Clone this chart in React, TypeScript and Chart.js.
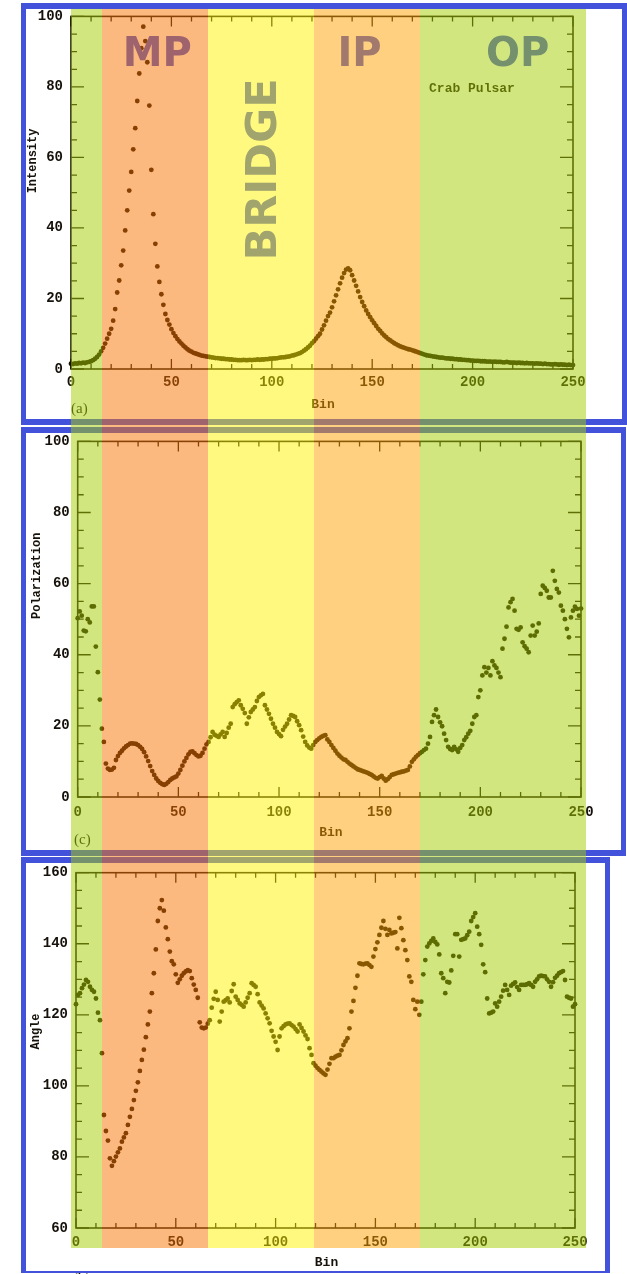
import React, { useEffect, useRef } from 'react';
import { Chart, registerables } from 'chart.js';

Chart.register(...registerables);

// ---------------- data ----------------
const bins: number[] = Array.from({ length: 251 }, (_, i) => i);

const xTickValues = [0, 50, 100, 150, 200, 250];
const intensityTicks = [0, 20, 40, 60, 80, 100];
const polarizationTicks = [0, 20, 40, 60, 80, 100];
const angleTicks = [60, 80, 100, 120, 140, 160];

const intensity = [
  1.5, 1.4, 1.6, 1.5, 1.7, 1.6, 1.8, 1.7, 1.9, 2.0,
  2.2, 2.5, 2.9, 3.4, 4.1, 5.0, 6.0, 7.2, 8.6, 10.0,
  11.4, 13.7, 17.0, 21.7, 25.1, 29.4, 33.6, 39.3, 45.0, 50.6,
  55.9, 62.3, 68.3, 76.0, 83.8, 91.0, 97.1, 93.0, 87.0, 74.7,
  56.5, 43.9, 35.5, 29.1, 24.7, 21.2, 18.2, 15.6, 13.9, 12.6,
  11.3, 10.2, 9.3, 8.5, 7.8, 7.2, 6.6, 6.1, 5.6, 5.2,
  4.9, 4.6, 4.4, 4.2, 4.0, 3.8, 3.7, 3.6, 3.5, 3.4,
  3.3, 3.2, 3.1, 3.1, 3.0, 2.9, 2.9, 2.8, 2.8, 2.7,
  2.7, 2.6, 2.6, 2.5, 2.5, 2.5, 2.6, 2.5, 2.5, 2.6,
  2.5, 2.6, 2.6, 2.7, 2.6, 2.7, 2.7, 2.8, 2.8, 2.9,
  2.9, 3.0, 3.0, 3.1, 3.2, 3.3, 3.3, 3.4, 3.5, 3.6,
  3.8, 3.9, 4.1, 4.3, 4.5, 4.8, 5.2, 5.6, 6.1, 6.6,
  7.3, 7.9, 8.6, 9.3, 10.0, 11.2, 12.4, 13.7, 15.0, 16.0,
  17.5, 19.2, 20.9, 22.6, 24.3, 25.9, 27.2, 28.2, 28.5, 28.0,
  26.6, 25.1, 23.6, 22.0, 20.4, 19.0, 17.8, 16.6, 15.6, 14.7,
  13.8, 13.0, 12.2, 11.4, 10.8, 10.1, 9.5, 9.0, 8.5, 8.1,
  7.7, 7.3, 7.0, 6.7, 6.4, 6.2, 6.0, 5.8, 5.6, 5.5,
  5.3, 5.1, 4.9, 4.7, 4.5, 4.3, 4.1, 3.9, 3.8, 3.7,
  3.6, 3.5, 3.4, 3.3, 3.2, 3.2, 3.1, 3.0, 3.0, 2.9,
  2.9, 2.8, 2.8, 2.7, 2.7, 2.6, 2.6, 2.5, 2.5, 2.4,
  2.4, 2.3, 2.3, 2.3, 2.2, 2.2, 2.2, 2.1, 2.1, 2.1,
  2.0, 2.1, 2.0, 2.0, 2.0, 1.9, 1.9, 2.0, 1.9, 1.8,
  1.8, 1.8, 1.7, 1.8, 1.7, 1.7, 1.6, 1.7, 1.6, 1.6,
  1.6, 1.5, 1.6, 1.5, 1.5, 1.4, 1.5, 1.4, 1.4, 1.3,
  1.3, 1.4, 1.3, 1.2, 1.3, 1.2, 1.2, 1.1, 1.2, 1.1,
  1.1,
];

const polarization = [
  50.3, 52.2, 51.0, 46.8, 46.6, 50.0, 49.1, 53.6, 53.6, 42.3,
  35.1, 27.4, 19.2, 15.5, 9.4, 8.0, 7.6, 7.7, 8.2, 10.4,
  11.5, 12.4, 13.0, 13.7, 14.2, 14.6, 15.0, 15.1, 15.0, 14.9,
  14.6, 14.1, 13.5, 12.6, 11.4, 10.1, 8.7, 7.3, 6.2, 5.2,
  4.5, 4.0, 3.6, 3.4, 3.7, 4.2, 4.8, 5.2, 5.5, 5.8,
  6.6, 7.6, 8.8, 10.0, 11.0, 12.0, 12.7, 12.8, 12.3, 11.8,
  11.4, 11.6, 12.4, 13.6, 14.8, 15.5, 16.8, 18.3, 17.5, 17.2,
  16.9, 17.6, 18.3, 16.9, 18.0, 19.5, 20.6, 25.3, 26.1, 26.7,
  27.2, 25.8, 24.8, 23.6, 20.6, 22.4, 23.9, 24.6, 25.3, 27.0,
  28.1, 28.6, 29.0, 25.8, 24.6, 23.4, 22.0, 20.6, 19.5, 18.3,
  17.7, 17.1, 18.9, 19.8, 20.6, 21.8, 23.0, 22.8, 22.5, 21.3,
  20.2, 18.8, 17.0, 15.5, 14.5, 13.9, 13.6, 14.6, 15.5, 16.0,
  16.5, 16.9, 17.2, 17.4, 16.2, 15.5, 14.6, 13.8, 13.0, 12.2,
  11.6, 11.1, 10.6, 10.4, 9.9, 9.4, 9.0, 8.6, 8.2, 7.8,
  7.6, 7.4, 7.2, 7.0, 6.8, 6.5, 6.2, 5.8, 5.4, 5.2,
  5.6, 5.9, 5.2, 4.6, 5.0, 5.6, 6.2, 6.4, 6.6, 6.8,
  6.9, 7.1, 7.2, 7.4, 7.6, 8.6, 9.9, 10.6, 11.3, 11.8,
  12.3, 12.7, 13.2, 13.6, 15.0, 16.9, 21.1, 23.0, 24.6, 22.5,
  21.0, 19.9, 17.8, 16.0, 14.1, 13.5, 13.2, 14.1, 13.4, 12.7,
  13.8, 14.6, 16.0, 16.8, 17.8, 18.6, 20.6, 22.5, 23.0, 28.1,
  30.0, 34.2, 36.5, 35.0, 36.3, 34.2, 38.2, 37.0, 36.3, 35.0,
  33.7, 41.7, 44.5, 47.9, 53.3, 54.8, 55.7, 52.4, 47.3, 47.0,
  47.7, 43.5, 42.4, 41.7, 40.7, 45.4, 48.2, 45.4, 46.5, 48.8,
  57.1, 59.4, 58.8, 58.0, 56.1, 56.1, 63.6, 60.8, 58.5, 57.5,
  53.8, 52.4, 50.0, 47.3, 44.9, 50.5, 52.4, 53.5, 52.9, 51.0,
  53.0,
];

const angle = [
  123.0, 125.6, 126.1, 127.5, 128.5, 129.8, 129.3, 127.9, 127.0, 126.5,
  124.6, 120.6, 118.5, 109.2, 91.8, 87.3, 84.6, 79.6, 77.5, 78.8,
  80.1, 81.3, 82.4, 84.3, 85.5, 86.7, 89.0, 91.3, 93.5, 96.0,
  98.6, 101.0, 104.2, 107.3, 110.2, 113.7, 117.3, 120.9, 126.1, 131.7,
  138.4, 146.4, 150.0, 152.3, 149.3, 144.6, 141.3, 137.8, 135.1, 134.2,
  131.4, 129.0, 130.0, 131.0, 131.7, 132.2, 132.6, 132.3, 130.3, 128.5,
  127.0, 124.8, 117.9, 116.4, 116.2, 116.4, 117.5, 118.5, 122.0, 124.5,
  126.5, 124.2, 118.1, 120.9, 123.7, 124.1, 124.6, 123.5, 126.7, 128.6,
  125.1, 124.2, 123.2, 122.8, 122.3, 123.5, 124.8, 126.1, 128.9, 128.4,
  127.9, 125.8, 123.5, 122.6, 121.8, 120.4, 119.0, 117.6, 115.5, 113.9,
  112.4, 110.1, 113.9, 116.2, 116.8, 117.3, 117.5, 117.6, 117.1, 116.7,
  116.0, 115.3, 117.3, 116.3, 115.3, 114.2, 113.2, 110.6, 108.7, 106.4,
  105.7, 105.0, 104.5, 104.0, 103.5, 103.1, 104.6, 106.2, 107.8, 107.8,
  108.2, 108.5, 108.7, 110.0, 111.5, 112.5, 113.4, 116.2, 120.9, 123.9,
  127.6, 131.0, 134.5, 134.3, 134.2, 134.4, 134.5, 134.0, 133.5, 136.4,
  138.5, 140.4, 142.5, 144.5, 146.4, 144.2, 142.5, 143.9, 142.9, 143.1,
  143.3, 138.7, 147.3, 144.4, 141.0, 138.2, 135.4, 130.8, 129.3, 124.2,
  121.6, 123.7, 120.0, 123.7, 131.4, 135.4, 139.2, 140.1, 140.8, 141.5,
  140.5, 139.8, 137.0, 131.7, 130.3, 126.1, 129.3, 129.1, 132.5, 136.6,
  142.7, 142.7, 136.4, 141.1, 141.3, 141.5, 142.4, 143.4, 146.4, 147.5,
  148.6, 144.8, 142.7, 139.7, 134.2, 132.0, 124.6, 120.4, 120.6, 120.9,
  123.2, 122.3, 123.7, 125.1, 126.8, 128.4, 127.0, 125.6, 128.2, 128.7,
  129.1, 127.8, 127.0, 128.4, 128.4, 128.4, 128.6, 128.9, 128.4, 127.9,
  129.3, 130.0, 130.8, 131.0, 130.9, 130.8, 130.0, 129.3, 127.9, 129.2,
  130.4, 131.0, 131.7, 132.0, 132.3, 129.8, 125.1, 124.8, 124.6, 122.3,
  123.0,
];

// pulse-phase regions (bin ranges of the coloured bands)
const bandNames = ['pre-MP', 'MP', 'BRIDGE', 'IP', 'OP'];
const bandFrom = [0, 15.5, 68.5, 121.5, 174.5];
const bandTo = [15.5, 68.5, 121.5, 174.5, 257.5];
const bandColors = [
  'rgba(165, 205, 0, 0.5)',
  'rgba(249, 115, 0, 0.5)',
  'rgba(255, 245, 0, 0.5)',
  'rgba(255, 162, 0, 0.5)',
  'rgba(165, 205, 0, 0.5)',
];

// region captions (text + anchor in bin / intensity units)
const regionNames = ['MP', 'BRIDGE', 'IP', 'OP'];
const regionBin = [43, 102.1, 143.7, 222.4];
const regionLevel = [86, 56.6, 86, 86];

// ---------------- styles ----------------
const INK = '#16110a';
const DOT = '#140c02';
const BLUE = 'rgb(66, 82, 218)';
const MONO = '"Liberation Mono", "DejaVu Sans Mono", monospace';
const SERIF = '"Liberation Serif", "DejaVu Serif", serif';
const SANS = '"DejaVu Sans", "Liberation Sans", sans-serif';

type Note = {
  text: string;
  x: number;
  y: number;
  font: string;
  color: string;
  align: CanvasTextAlign;
  baseline: CanvasTextBaseline;
  rotate?: number;
};

function notesPlugin(notes: Note[]) {
  return {
    id: 'notes',
    afterDraw(chart: any) {
      const { ctx, scales } = chart;
      notes.forEach((n) => {
        ctx.save();
        ctx.font = n.font;
        ctx.fillStyle = n.color;
        ctx.textAlign = n.align;
        ctx.textBaseline = n.baseline;
        ctx.translate(scales.x.getPixelForValue(n.x), scales.y.getPixelForValue(n.y));
        if (n.rotate) ctx.rotate(n.rotate);
        ctx.fillText(n.text, 0, 0);
        ctx.restore();
      });
    },
  };
}

function framePlugin(xMinor: number, xMajor: number, yMinor: number, yMajor: number) {
  return {
    id: 'frame',
    afterDraw(chart: any) {
      const { ctx, chartArea: a, scales } = chart;
      const x = scales.x;
      const y = scales.y;
      ctx.save();
      ctx.strokeStyle = INK;
      ctx.lineWidth = 1.6;
      ctx.strokeRect(a.left, a.top, a.right - a.left, a.bottom - a.top);
      ctx.lineWidth = 1.3;
      ctx.beginPath();
      for (let v = x.min; v <= x.max + 1e-6; v += xMinor) {
        const p = x.getPixelForValue(v);
        const len = Math.abs(v % xMajor) < 1e-6 ? 10 : 5;
        ctx.moveTo(p, a.bottom);
        ctx.lineTo(p, a.bottom - len);
        ctx.moveTo(p, a.top);
        ctx.lineTo(p, a.top + len);
      }
      for (let v = y.min; v <= y.max + 1e-6; v += yMinor) {
        const p = y.getPixelForValue(v);
        const len = Math.abs(v % yMajor) < 1e-6 ? 13 : 6;
        ctx.moveTo(a.left, p);
        ctx.lineTo(a.left + len, p);
        ctx.moveTo(a.right, p);
        ctx.lineTo(a.right - len, p);
      }
      ctx.stroke();
      ctx.restore();
    },
  };
}

function panelConfig(
  values: number[],
  yTicks: number[],
  padding: { left: number; right: number; top: number; bottom: number },
  xLabelPad: number,
  notes: Note[]
): any {
  const tickFont = { family: MONO, size: 14, weight: 'bold' as const };
  return {
    type: 'scatter',
    data: {
      datasets: [
        {
          data: bins.map((b, i) => ({ x: b, y: values[i] })),
          pointRadius: 2.4,
          pointHoverRadius: 2.4,
          pointBackgroundColor: DOT,
          pointBorderWidth: 0,
          borderWidth: 0,
          clip: false,
        },
      ],
    },
    options: {
      responsive: false,
      maintainAspectRatio: false,
      animation: false,
      devicePixelRatio: 1,
      events: [],
      layout: { padding },
      plugins: { legend: { display: false }, tooltip: { enabled: false } },
      scales: {
        x: {
          type: 'linear',
          min: xTickValues[0],
          max: xTickValues[xTickValues.length - 1],
          afterBuildTicks: (s: any) => {
            s.ticks = xTickValues.map((v) => ({ value: v }));
          },
          afterFit: (s: any) => {
            s.height = 30;
          },
          grid: { display: false, drawTicks: false },
          border: { display: false },
          ticks: { padding: xLabelPad, color: INK, font: tickFont, maxRotation: 0, autoSkip: false },
        },
        y: {
          type: 'linear',
          min: yTicks[0],
          max: yTicks[yTicks.length - 1],
          afterBuildTicks: (s: any) => {
            s.ticks = yTicks.map((v) => ({ value: v }));
          },
          afterFit: (s: any) => {
            s.width = 40;
          },
          grid: { display: false, drawTicks: false },
          border: { display: false },
          ticks: { padding: 8, color: INK, font: tickFont, autoSkip: false },
        },
      },
    },
    plugins: [framePlugin(10, 50, 5, 20), notesPlugin(notes)],
  };
}

const bandConfig: any = {
  type: 'bar',
  data: {
    labels: ['pulse phase'],
    datasets: bandNames.map((name, i) => ({
      label: name,
      data: [[bandFrom[i], bandTo[i]]],
      backgroundColor: bandColors[i],
      borderWidth: 0,
      barPercentage: 1,
      categoryPercentage: 1,
      grouped: false,
      inflateAmount: 0,
    })),
  },
  options: {
    indexAxis: 'y',
    responsive: false,
    maintainAspectRatio: false,
    animation: false,
    devicePixelRatio: 1,
    events: [],
    layout: { padding: 0 },
    plugins: { legend: { display: false }, tooltip: { enabled: false } },
    scales: {
      x: { type: 'linear', min: bandFrom[0], max: bandTo[bandTo.length - 1], display: false },
      y: { display: false },
    },
  },
};

const regionNotes: Note[] = regionNames.map((name, i) => ({
  text: name,
  x: regionBin[i],
  y: regionLevel[i],
  font: `bold ${name === 'BRIDGE' ? 43 : 40}px ${SANS}`,
  color: BLUE,
  align: 'center',
  baseline: 'alphabetic',
  rotate: name === 'BRIDGE' ? -Math.PI / 2 : 0,
}));

const titleFont = `bold 12px ${MONO}`;
const binFont = `bold 13px ${MONO}`;
const tagFont = `15px ${SERIF}`;

const notes1: Note[] = [
  ...regionNotes,
  { text: 'Crab Pulsar', x: 178.3, y: 78.7, font: `bold 13px ${MONO}`, color: INK, align: 'left', baseline: 'alphabetic' },
  { text: 'Intensity', x: -18.9, y: 59, font: titleFont, color: INK, align: 'center', baseline: 'middle', rotate: -Math.PI / 2 },
  { text: 'Bin', x: 125.5, y: -10.1, font: binFont, color: INK, align: 'center', baseline: 'middle' },
  { text: '(a)', x: 0, y: -11.5, font: tagFont, color: INK, align: 'left', baseline: 'middle' },
];

const notes2: Note[] = [
  { text: 'Polarization', x: -20, y: 62.2, font: titleFont, color: INK, align: 'center', baseline: 'middle', rotate: -Math.PI / 2 },
  { text: 'Bin', x: 125.8, y: -10.1, font: binFont, color: INK, align: 'center', baseline: 'middle' },
  { text: '(c)', x: -1.8, y: -12, font: tagFont, color: INK, align: 'left', baseline: 'middle' },
];

const notes3: Note[] = [
  { text: 'Angle', x: -20, y: 115.3, font: titleFont, color: INK, align: 'center', baseline: 'middle', rotate: -Math.PI / 2 },
  { text: 'Bin', x: 125.5, y: 50.2, font: binFont, color: INK, align: 'center', baseline: 'middle' },
  { text: '(b)', x: -1.5, y: 45.6, font: tagFont, color: INK, align: 'left', baseline: 'middle' },
];

const abs = (left: number, top: number): React.CSSProperties => ({ position: 'absolute', left, top });

const panelBorder = (
  left: number,
  top: number,
  width: number,
  height: number,
  widths = '6px 5px'
): React.CSSProperties => ({
  position: 'absolute',
  left,
  top,
  width,
  height,
  boxSizing: 'border-box',
  borderStyle: 'solid',
  borderColor: BLUE,
  borderWidth: widths,
  background: 'transparent',
});

export default function App() {
  const c1 = useRef<HTMLCanvasElement>(null);
  const c2 = useRef<HTMLCanvasElement>(null);
  const c3 = useRef<HTMLCanvasElement>(null);
  const cb = useRef<HTMLCanvasElement>(null);

  useEffect(() => {
    const charts: Chart[] = [
      new Chart(c1.current!, panelConfig(intensity, intensityTicks, { left: 31, right: 54, top: 12, bottom: 26 }, 5, notes1)),
      new Chart(c2.current!, panelConfig(polarization, polarizationTicks, { left: 37.7, right: 46, top: 15, bottom: 28 }, 7, notes2)),
      new Chart(c3.current!, panelConfig(angle, angleTicks, { left: 36, right: 52, top: 17.7, bottom: 16 }, 6, notes3)),
      new Chart(cb.current!, bandConfig),
    ];
    return () => charts.forEach((c) => c.destroy());
  }, []);

  return (
    <div
      style={{
        position: 'absolute',
        left: 0,
        top: 0,
        width: 627,
        height: 1274,
        overflow: 'hidden',
        background: '#ffffff',
      }}
    >
      <canvas ref={c1} width={627} height={425} style={abs(0, 0)} />
      <canvas ref={c2} width={627} height={430} style={abs(0, 425)} />
      <canvas ref={c3} width={627} height={419} style={abs(0, 855)} />
      <div style={panelBorder(21, 3, 606, 422)} />
      <div style={panelBorder(21, 427, 605, 429)} />
      <div style={panelBorder(21, 857, 589, 416, '6px 5px 2px 5px')} />
      <canvas ref={cb} width={515} height={1239} style={{ ...abs(71, 9), pointerEvents: 'none' }} />
    </div>
  );
}
